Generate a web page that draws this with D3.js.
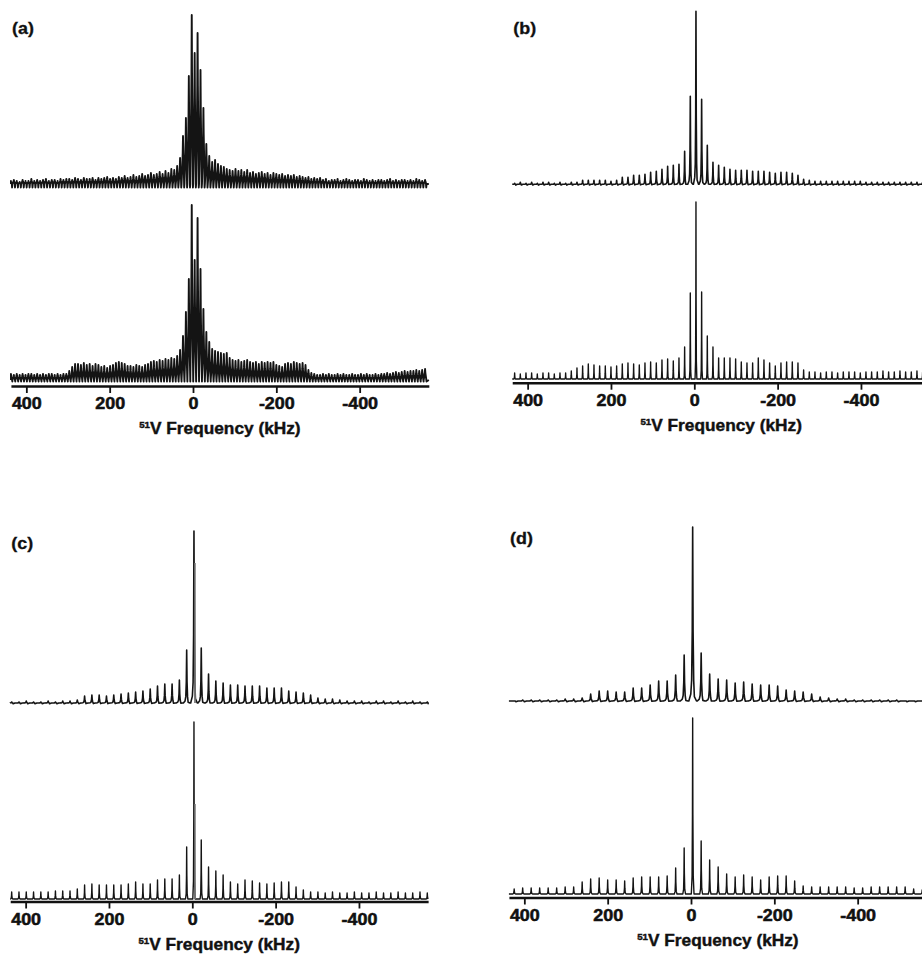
<!DOCTYPE html>
<html>
<head>
<meta charset="utf-8">
<script src="https://cdn.jsdelivr.net/npm/d3@7"></script>
<style>
  html, body { margin: 0; padding: 0; background: #fff; }
  svg { display: block; }
  .axis text { font-family: "Liberation Sans", Arial, sans-serif; font-weight: bold; }
  .panel-label, .axis-title { font-family: "Liberation Sans", Arial, sans-serif; font-weight: bold; fill: #111; }
</style>
</head>
<body>
<div id="figure"></div>
<script>
// frequency axis (kHz), high frequency on the left
const FREQ_DOMAIN = [437, -566];
const FREQ_TICKS = [400, 200, 0, -200, -400];

// sideband manifolds: heights listed from the highest order (left) to the lowest (right)
// (a) spinning 7 kHz, isotropic line at 3 kHz, first listed order +62
const aSpin = 7, aShift = 3, aFirstOrder = 62;
const aTop = [
  3, 4, 3, 2, 4, 3, 3, 5, 3, 4, 3, 4, 5, 3, 4, 4, 3, 5, 4, 5,
  5, 4, 6, 5, 4, 6, 5, 5, 6, 4, 6, 5, 6, 7, 5, 6, 5, 7, 6, 8, 6, 7,
  9, 7, 8, 10, 8, 9, 11, 9, 10, 12, 10,
  13, 11, 15, 14, 18,
  26, 48, 66, 108, 169, 131, 151, 114, 76, 40, 28, 22, 24, 20, 18, 17, 15,
  14, 13, 15, 13, 14, 12, 14,
  11, 12, 10, 11, 12, 10, 11, 9, 11, 10,
  9, 10, 8, 9, 8, 9, 7, 8,
  7, 6, 7, 5, 6, 5, 6,
  4, 5, 3, 4, 4, 5, 3, 4, 5, 4, 3, 4, 4, 3, 5, 4, 3, 4, 3, 4,
  4, 3, 4, 5, 3, 4, 3, 4, 4, 3, 4, 3, 5, 4, 3, 4
];
const aBottom = [
  6, 5, 6, 5, 6, 5, 6, 6, 5, 6, 5, 6, 5, 6, 6, 5, 6, 5, 6, 6,
  9, 13, 16,
  16, 15, 17, 15, 16, 14, 16, 15,
  13, 14, 12, 14, 15,
  17, 18, 17, 16, 14,
  14, 13, 15, 14, 13, 15, 16,
  18, 19, 18, 20, 19,
  21, 20, 22, 21, 24,
  30, 44, 68, 101, 175, 120, 162, 111, 71, 48, 38, 31, 29, 28, 27, 26, 27,
  22, 20, 19, 20, 18, 19, 20, 18,
  17, 18, 16, 18, 17, 18, 17,
  18, 15, 14, 13,
  16, 17, 16, 18, 17, 16, 17, 15,
  10, 7,
  6, 5, 5, 6, 5, 6, 5, 5, 6, 5, 6, 5, 5, 6, 5, 5, 6, 5, 6, 5, 5, 6, 5, 6, 6, 7, 6,
  7, 8, 7, 8, 9, 8, 9, 9, 10, 9, 10, 11
];

// (b) spinning 13.6 kHz, isotropic line at -4 kHz, first listed order +32
const bSpin = 13.6, bShift = -4, bFirstOrder = 32;
const bTop = [
  1, 2, 1, 2, 1, 2, 2, 1, 2, 1, 2, 2,
  4, 4, 4, 4, 4, 3, 4,
  7, 7, 9, 9, 10, 12, 13, 15, 18, 19, 20,
  33, 88, 173, 85, 39, 22,
  19, 17, 15, 14, 14, 14, 13, 13, 13, 12, 11, 12, 12, 11, 9,
  5, 4, 3, 3, 3, 3, 3, 3, 3, 3, 3, 2, 2, 2, 2, 2, 2, 2, 2, 2, 2, 2, 2
];
const bBottom = [
  6, 5, 6, 6, 5, 6, 6, 5, 6, 6,
  8, 11, 13, 15, 14, 13, 13, 12, 13, 15, 16, 15, 14, 16, 17, 16, 19, 20, 18, 21,
  32, 86, 177, 87, 43, 32,
  21, 21, 21, 20, 17, 16, 16, 21, 19, 16, 13, 16, 17, 17, 16,
  9,
  7, 7, 6, 7, 7, 6, 7, 7, 7, 6, 7, 7, 7, 8, 7, 7, 8, 7, 7, 8, 7, 7
];

// (c) spinning 17.5 kHz, isotropic line at -4 kHz, first listed order +25
const cSpin = 17.5, cShift = -4, cFirstOrder = 25;
const cTop = [
  1, 1, 2, 1, 1, 2, 1, 2, 2,
  3, 7, 8, 8, 7, 8, 9, 10, 11, 12, 14, 17, 19, 19, 23,
  53, 172, 55,
  29, 22, 20, 18, 18, 17, 17, 17, 15, 15, 15, 12, 11, 10, 8, 5, 4, 4, 3,
  2, 2, 2, 1, 2, 2, 1, 2, 1, 2, 1, 1
];
const cBottom = [
  7, 7, 7, 7, 7, 7, 8, 8, 8,
  10, 14, 15, 14, 14, 14, 14, 15, 17, 15, 15, 19, 20, 20, 24,
  52, 177, 59,
  32, 28, 24, 17, 15, 19, 18, 16, 15, 16, 17, 17, 12, 9, 7,
  7, 6, 7, 6, 6, 7, 6, 6, 7, 6, 6, 7, 6, 6, 7, 6
];
// second, nearly coincident centre line in (c): [kHz, height]
const cTopSecond = [[-6.5, 140]];
const cBottomSecond = [[-6.5, 95]];

// (d) spinning 20.4 kHz, isotropic line at -4 kHz, first listed order +21
const dSpin = 20.4, dShift = -4, dFirstOrder = 21;
const dTop = [
  0, 1, 1, 1, 1, 1, 2, 2, 3, 7, 10, 10, 9, 9, 13, 13, 16, 20,
  20, 26, 46, 174, 48, 27, 22, 21, 18, 19, 17, 16, 16, 15, 11, 10, 9, 7, 4, 3, 2, 2,
  1, 1, 1, 1, 1, 1, 0, 0, 0
];
const dBottom = [
  5, 6, 6, 6, 6, 6, 7, 7,
  12, 15, 16, 14, 14, 13, 16, 17, 17, 17, 18, 26,
  46, 176, 53,
  34, 27, 20, 17, 19, 17, 14, 17, 18, 18, 13, 8,
  7, 7, 7, 7, 7, 6, 6, 7, 7, 7, 7, 7, 5, 4
];

// layout
const width = 922;
const height = 954;
const pxPerKHz = 83.33 / 200;
const maxIntensity = 180;

// line shapes: [offset as a fraction of the spinning rate, fraction of the peak height, fixed dip]
const measuredShape = [[-0.45, 0, 0], [-0.22, 0.04, 0], [-0.12, 0.12, 0], [-0.05, 0.4, 0], [0, 1, 0], [0.05, 0.4, 0], [0.12, 0.12, 0], [0.2, 0.03, -0.8], [0.45, 0, 0]];
const simulatedShape = [[-0.16, 0, 0], [-0.07, 0.1, 0], [-0.025, 0.45, 0], [0, 1, 0], [0.025, 0.45, 0], [0.07, 0.1, 0], [0.16, 0, 0]];
const denseNoisyShape = [[-0.5, 0, 0], [-0.28, 0.3, 0], [-0.1, 0.65, 0], [0, 1, 0], [0.1, 0.65, 0], [0.28, 0.3, 0], [0.4, 0, -3.5], [0.5, 0, 0]];
const denseShape = [[-0.5, 0, 0], [-0.28, 0.3, 0], [-0.1, 0.65, 0], [0, 1, 0], [0.1, 0.65, 0], [0.28, 0.3, 0], [0.5, 0, -1.5]];

function sidebands(values, shift, spin, firstOrder) {
  return values.map((v, i) => ({ f: shift + (firstOrder - i) * spin, v: v }));
}

const panels = [
  {
    label: '(a)', x0: 193, axisY: 386, labelY: 34, spin: aSpin,
    spectra: [
      { peaks: sidebands(aTop, aShift, aSpin, aFirstOrder), base: 184, shape: denseNoisyShape, lw: 1.9 },
      { peaks: sidebands(aBottom, aShift, aSpin, aFirstOrder), base: 380, shape: denseShape, lw: 1.9 }
    ]
  },
  {
    label: '(b)', x0: 694.3, axisY: 382.7, labelY: 34, spin: bSpin,
    spectra: [
      { peaks: sidebands(bTop, bShift, bSpin, bFirstOrder), base: 184.3, shape: measuredShape, lw: 1.6 },
      { peaks: sidebands(bBottom, bShift, bSpin, bFirstOrder), base: 379, shape: simulatedShape, lw: 1.4 }
    ]
  },
  {
    label: '(c)', x0: 192.3, axisY: 901.5, labelY: 549, spin: cSpin,
    spectra: [
      { peaks: sidebands(cTop, cShift, cSpin, cFirstOrder), base: 703, shape: measuredShape, lw: 1.6, second: cTopSecond },
      { peaks: sidebands(cBottom, cShift, cSpin, cFirstOrder), base: 899, shape: simulatedShape, lw: 1.4, second: cBottomSecond }
    ]
  },
  {
    label: '(d)', x0: 691, axisY: 897.5, labelY: 544, spin: dSpin,
    spectra: [
      { peaks: sidebands(dTop, dShift, dSpin, dFirstOrder), base: 701, shape: measuredShape, lw: 1.6 },
      { peaks: sidebands(dBottom, dShift, dSpin, dFirstOrder), base: 894, shape: simulatedShape, lw: 1.4 }
    ]
  }
];

const svg = d3.select('#figure')
  .append('svg')
  .attr('width', width)
  .attr('height', height);

panels.forEach(panel => drawPanel(panel));

function drawPanel(panel) {
  const x = d3.scaleLinear()
    .domain(FREQ_DOMAIN)
    .range([panel.x0 - FREQ_DOMAIN[0] * pxPerKHz, panel.x0 - FREQ_DOMAIN[1] * pxPerKHz]);

  const g = svg.append('g').attr('class', 'panel');

  panel.spectra.forEach(spec => {
    const y = d3.scaleLinear()
      .domain([0, maxIntensity])
      .range([spec.base, spec.base - maxIntensity]);

    // baseline from one end of the axis to the other, one profile per sideband
    const pts = [{ f: FREQ_DOMAIN[0], v: 0 }];
    spec.peaks.forEach(p => {
      spec.shape.forEach(([off, frac, dip]) => {
        pts.push({ f: p.f - off * panel.spin, v: p.v * frac + dip });
      });
    });
    pts.push({ f: FREQ_DOMAIN[1], v: 0 });

    const line = d3.line()
      .x(d => x(Math.max(FREQ_DOMAIN[1], Math.min(FREQ_DOMAIN[0], d.f))))
      .y(d => y(d.v));

    g.append('path')
      .attr('d', line(pts))
      .attr('fill', 'none')
      .attr('stroke', '#141414')
      .attr('stroke-width', spec.lw)
      .attr('stroke-linejoin', 'round');

    if (spec.second) {
      spec.second.forEach(([f, v]) => {
        const spike = [[-0.05, 0], [0, 1], [0.05, 0]].map(([off, frac]) => ({ f: f - off * panel.spin, v: v * frac }));
        g.append('path')
          .attr('d', line(spike))
          .attr('fill', 'none')
          .attr('stroke', '#777')
          .attr('stroke-width', 1);
      });
    }
  });

  // frequency axis
  const axis = g.append('g')
    .attr('class', 'axis')
    .attr('transform', `translate(0, ${panel.axisY})`)
    .call(d3.axisBottom(x)
      .tickValues(FREQ_TICKS)
      .tickSize(7)
      .tickSizeOuter(0)
      .tickFormat(d => String(d)));

  axis.select('.domain')
    .attr('stroke', '#111')
    .attr('stroke-width', 2.4);
  axis.selectAll('.tick line')
    .attr('stroke', '#111')
    .attr('stroke-width', 1.8);
  axis.selectAll('.tick text')
    .attr('y', 0)
    .attr('dy', 0)
    .attr('transform', 'translate(0, 23) scale(1.12, 1)')
    .attr('fill', '#111')
    .attr('stroke', '#111')
    .attr('stroke-width', 0.5)
    .attr('font-size', 16);

  // axis title, centred on the axis line
  const xMid = (x.range()[0] + x.range()[1]) / 2;
  const title = g.append('text')
    .attr('class', 'axis-title')
    .attr('text-anchor', 'middle')
    .attr('transform', `translate(${xMid}, ${panel.axisY + 48}) scale(1.08, 1)`)
    .attr('stroke', '#111')
    .attr('stroke-width', 0.4)
    .attr('font-size', 16);
  title.append('tspan')
    .attr('font-size', 9)
    .attr('dy', -6)
    .text('51');
  title.append('tspan')
    .attr('dy', 6)
    .text('V Frequency (kHz)');

  // panel letter
  g.append('text')
    .attr('class', 'panel-label')
    .attr('transform', `translate(${panel.x0 - 181}, ${panel.labelY}) scale(1.12, 1)`)
    .attr('stroke', '#111')
    .attr('stroke-width', 0.3)
    .attr('font-size', 16)
    .text(panel.label);
}
</script>
</body>
</html>
